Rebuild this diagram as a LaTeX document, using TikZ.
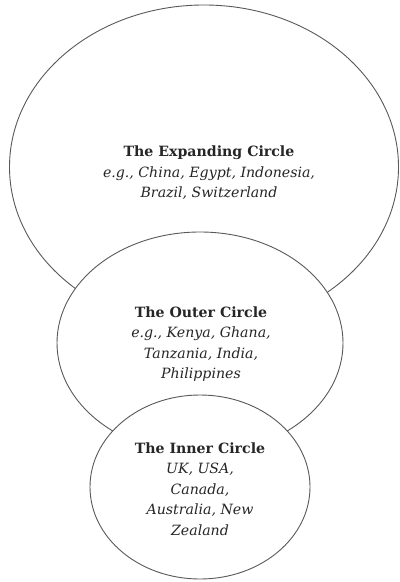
\documentclass[tikz,border=0pt]{standalone}
\usepackage{fontspec}
\setmainfont{DejaVu Serif}
\usetikzlibrary{shapes.geometric}
\begin{document}
\begin{tikzpicture}[x=1bp,y=-1bp,
  ring/.style={ellipse, draw=black!65, line width=0.9bp, fill=white, inner sep=0pt},
  lbl/.style={align=center, font=\fontsize{14.2}{20.5}\selectfont, inner sep=0pt, text=black!85}]
\useasboundingbox (0,0) rectangle (399,582);
\node[ring, minimum width=389bp, minimum height=324bp] (expanding) at (204,167) {};
\node[ring, minimum width=286bp, minimum height=222bp] (outer) at (200,343) {};
\node[ring, minimum width=220bp, minimum height=184bp] (inner) at (200,487) {};
\node[lbl] (expandingtext) at (209,173) {\textbf{The Expanding Circle}\\\textit{e.g., China, Egypt, Indonesia,}\\\textit{Brazil, Switzerland}};
\node[lbl] (outertext) at (201,344) {\textbf{The Outer Circle}\\\textit{e.g., Kenya, Ghana,}\\\textit{Tanzania, India,}\\\textit{Philippines}};
\node[lbl] (innertext) at (200,489) {\textbf{The Inner Circle}\\\textit{UK, USA,}\\\textit{Canada,}\\\textit{Australia, New}\\\textit{Zealand}};
\end{tikzpicture}
\end{document}
